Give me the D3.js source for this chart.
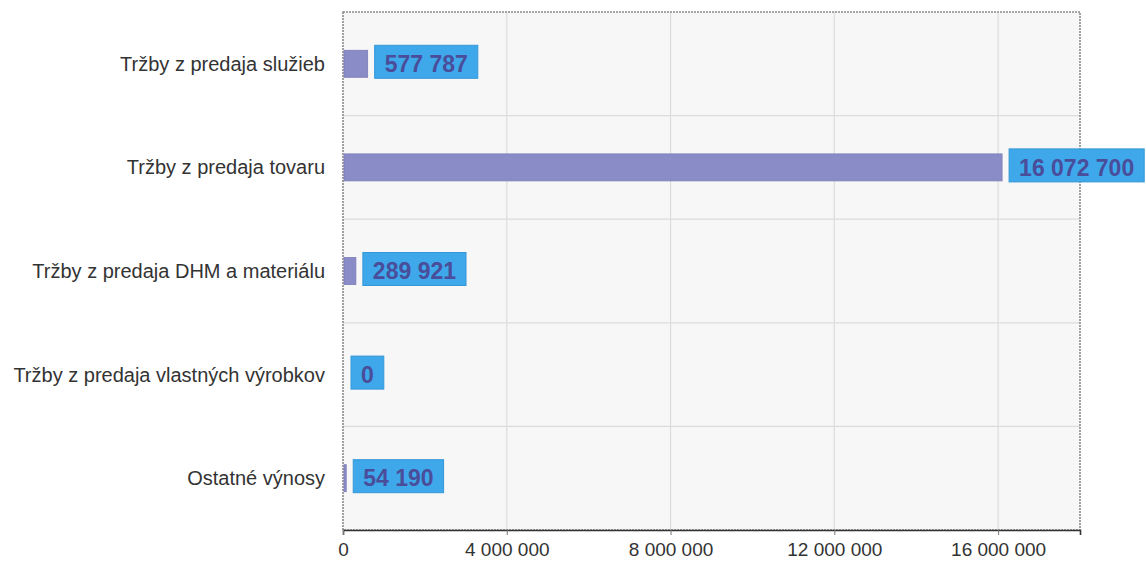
<!DOCTYPE html>
<html>
<head>
<meta charset="utf-8">
<script src="https://cdn.jsdelivr.net/npm/d3@7"></script>
<style>
  html, body { margin: 0; padding: 0; background: #ffffff; }
  svg { display: block; }
</style>
</head>
<body>
<svg id="chart" width="1146" height="566"></svg>
<script>
const categories = [
  "Tržby z predaja služieb",
  "Tržby z predaja tovaru",
  "Tržby z predaja DHM a materiálu",
  "Tržby z predaja vlastných výrobkov",
  "Ostatné výnosy"
];
const values = [577787, 16072700, 289921, 0, 54190];
const tickValues = [0, 4000000, 8000000, 12000000, 16000000];
const xMax = 18000000;

const W = 1146, H = 566;
const m = { left: 343, right: 66, top: 12, bottom: 36 };
const svg = d3.select("#chart");

const locale = d3.formatLocale({ decimal: ",", thousands: " ", grouping: [3], currency: ["", " €"] });
const fmt = locale.format(",d");

const x = d3.scaleLinear().domain([0, xMax]).range([m.left, W - m.right]);
const y = d3.scaleBand().domain(categories).range([m.top, H - m.bottom]).paddingInner(0).paddingOuter(0);

// plot background
svg.append("rect")
  .attr("x", x(0)).attr("y", m.top)
  .attr("width", x(xMax) - x(0)).attr("height", H - m.bottom - m.top)
  .attr("fill", "#f7f7f7");

// vertical gridlines
svg.append("g").selectAll("line").data(tickValues.slice(1)).join("line")
  .attr("x1", d => x(d)).attr("x2", d => x(d))
  .attr("y1", m.top).attr("y2", H - m.bottom)
  .attr("stroke", "#dcdcdc").attr("stroke-width", 1.2);

// horizontal gridlines at band boundaries
svg.append("g").selectAll("line").data(categories.slice(1)).join("line")
  .attr("x1", x(0)).attr("x2", x(xMax))
  .attr("y1", d => y(d)).attr("y2", d => y(d))
  .attr("stroke", "#dcdcdc").attr("stroke-width", 1.2);

// plot border
svg.append("rect")
  .attr("x", x(0)).attr("y", m.top)
  .attr("width", x(xMax) - x(0)).attr("height", H - m.bottom - m.top)
  .attr("fill", "none").attr("stroke", "#8a8a8a").attr("stroke-width", 1.6)
  .attr("stroke-dasharray", "2,1");

// x axis
const xAxis = d3.axisBottom(x).tickValues(tickValues).tickSize(5).tickPadding(8)
  .tickFormat(d => fmt(d));
const gx = svg.append("g").attr("transform", `translate(0,${H - m.bottom})`).call(xAxis);
gx.select(".domain").attr("stroke", "#333").attr("stroke-width", 1.6);
gx.selectAll(".tick line").attr("stroke", "#777");
gx.selectAll(".tick text")
  .attr("font-family", "'Liberation Sans', Arial, sans-serif")
  .attr("font-size", 19).attr("fill", "#333");

// category labels
svg.append("g").selectAll("text").data(categories).join("text")
  .attr("x", m.left - 18)
  .attr("y", d => y(d) + y.bandwidth() / 2)
  .attr("dy", "0.35em")
  .attr("text-anchor", "end")
  .attr("font-family", "'Liberation Sans', Arial, sans-serif")
  .attr("font-size", 20)
  .attr("fill", "#333")
  .text(d => d);

// bars
const barH = 27;
const data = categories.map((c, i) => ({ c, v: values[i] }));
svg.append("g").selectAll("rect").data(data).join("rect")
  .attr("x", x(0) + 1)
  .attr("y", d => y(d.c) + y.bandwidth() / 2 - barH / 2)
  .attr("width", d => Math.max(0, x(d.v) - x(0)))
  .attr("height", barH)
  .attr("fill", "#8a8cc8")
  .attr("stroke", "#7a7cb6").attr("stroke-width", 0.8);

// value labels in blue boxes
const lg = svg.append("g").selectAll("g").data(data).join("g")
  .attr("transform", d => `translate(${x(d.v) + 8},${y(d.c) + y.bandwidth() / 2})`);
const boxH = 33, padX = 10;
lg.each(function(d) {
  const g = d3.select(this);
  const rect = g.append("rect");
  const t = g.append("text")
    .attr("x", padX).attr("y", 0).attr("dy", "0.36em")
    .attr("font-family", "'Liberation Sans', Arial, sans-serif")
    .attr("font-weight", "bold").attr("font-size", 23)
    .attr("fill", "#4a4d9a")
    .text(fmt(d.v));
  const w = t.node().getComputedTextLength() + padX * 2;
  rect.attr("x", 0).attr("y", -boxH / 2 - 2).attr("width", w).attr("height", boxH)
    .attr("fill", "#3ea8ea").attr("stroke", "#3597d8").attr("stroke-width", 1);
});
</script>
</body>
</html>
